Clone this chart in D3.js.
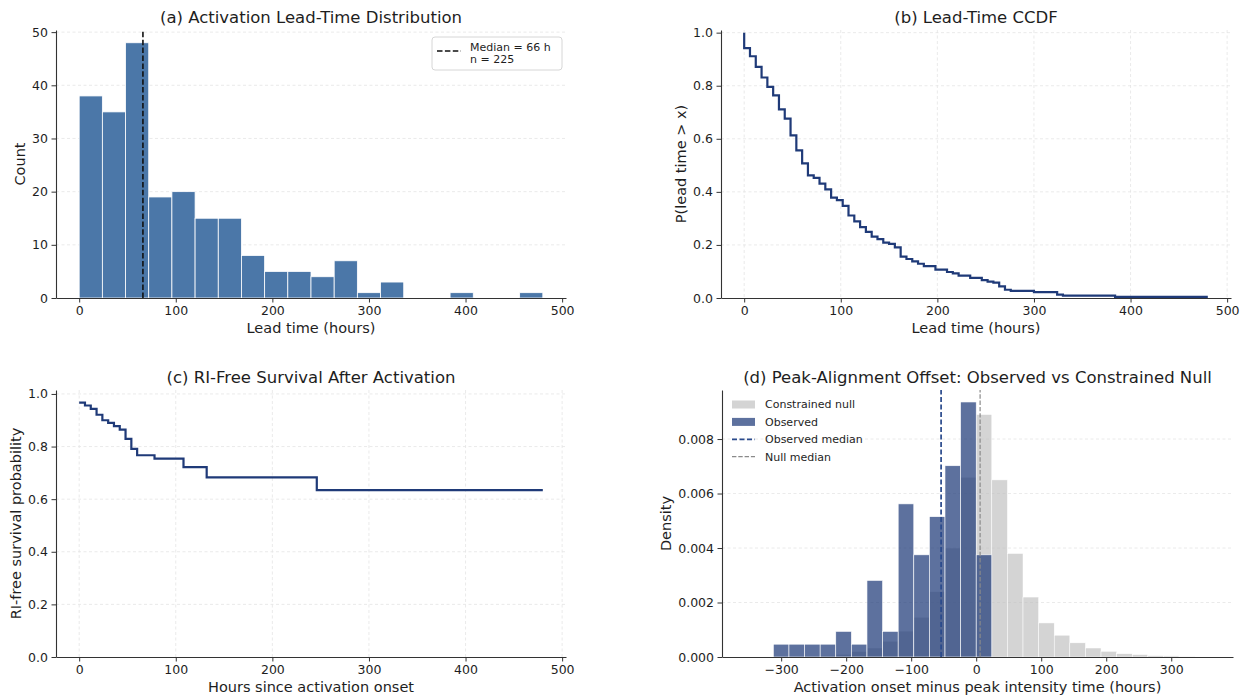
<!DOCTYPE html>
<html>
<head>
<meta charset="utf-8">
<script src="https://cdn.jsdelivr.net/npm/d3@7"></script>
<style>
  body { margin: 0; background: #fff; }
  svg text { font-family: "DejaVu Sans", sans-serif; fill: #1e1e1e; }
</style>
</head>
<body>
<svg id="fig" width="1249" height="696"></svg>
<script>
// (a) lead-time histogram
const leadEdges = [0, 24, 48, 72, 96, 120, 144, 168, 192, 216, 240, 264, 288, 312, 336, 360, 384, 408, 432, 456, 480];
const leadCounts = [38, 35, 48, 19, 20, 15, 15, 8, 5, 5, 4, 7, 1, 3, 0, 0, 1, 0, 0, 1];
const leadMedian = 66;
const leadN = 225;

// (b) CCDF steps
const ccdfHours = [0, 0, 6, 12, 18, 24, 30, 36, 42, 48, 54, 60, 66, 72, 78, 84, 90, 96, 102, 108, 114, 120, 126, 132, 138, 144, 150, 156, 162, 168, 174, 180, 186, 198, 210, 216, 222, 234, 246, 252, 258, 264, 270, 276, 300, 324, 330, 384, 480];
const ccdfProb = [1.000, 0.942, 0.911, 0.871, 0.831, 0.796, 0.764, 0.711, 0.676, 0.613, 0.556, 0.507, 0.462, 0.453, 0.431, 0.409, 0.378, 0.369, 0.347, 0.311, 0.289, 0.267, 0.249, 0.231, 0.222, 0.209, 0.204, 0.191, 0.156, 0.147, 0.138, 0.129, 0.120, 0.107, 0.098, 0.093, 0.084, 0.076, 0.067, 0.062, 0.058, 0.044, 0.031, 0.027, 0.022, 0.013, 0.009, 0.004, 0.004];

// (c) RI-free survival
const survHours = [0, 6, 12, 18, 24, 30, 36, 42, 48, 54, 60, 78, 108, 132, 246, 480];
const survProb = [0.967, 0.956, 0.943, 0.921, 0.900, 0.890, 0.878, 0.864, 0.829, 0.791, 0.767, 0.754, 0.722, 0.683, 0.634, 0.634];

// (d) peak-alignment offset densities
const offsetEdges = [-312, -288, -264, -240, -216, -192, -168, -144, -120, -96, -72, -48, -24, 0, 24, 48, 72, 96, 120, 144, 168, 192, 216, 240, 264, 288, 312, 336];
const observedDensity = [0.00047, 0.00047, 0.00047, 0.00047, 0.00094, 0.00047, 0.00281, 0.00094, 0.00562, 0.00375, 0.00515, 0.00702, 0.00936, 0.00375, 0, 0, 0, 0, 0, 0, 0, 0, 0, 0, 0, 0, 0];
const nullDensity = [0.00001, 0.00002, 0.00003, 0.00005, 0.0001, 0.0002, 0.00033, 0.00058, 0.00095, 0.00146, 0.0024, 0.004, 0.0066, 0.0089, 0.0065, 0.0038, 0.0022, 0.00125, 0.0008, 0.00052, 0.00033, 0.00021, 0.00012, 0.00009, 0.00005, 0.00004, 0.00002];
const observedMedian = -54;
const nullMedian = 6;

const navy = "#1f3a78";
const svg = d3.select("#fig");

function makePanel(opt) {
  const g = svg.append("g");
  const x = d3.scaleLinear().domain(opt.xDomain).range([opt.left, opt.right]);
  const y = d3.scaleLinear().domain(opt.yDomain).range([opt.bottom, opt.top]);

  const grid = g.append("g")
    .attr("stroke", "#e4e4e4").attr("stroke-width", 0.8).attr("stroke-dasharray", "3,2.5");
  if (opt.gridX) {
    grid.selectAll(".gx").data(opt.xTicks).enter().append("line")
      .attr("x1", d => x(d)).attr("x2", d => x(d))
      .attr("y1", opt.top).attr("y2", opt.bottom);
  }
  grid.selectAll(".gy").data(opt.yTicks.filter(d => d !== 0)).enter().append("line")
    .attr("x1", opt.left).attr("x2", opt.right)
    .attr("y1", d => y(d)).attr("y2", d => y(d));

  const plot = g.append("g");
  const axes = g.append("g");

  const xAxis = axes.append("g").attr("transform", `translate(0,${opt.bottom})`)
    .call(d3.axisBottom(x).tickValues(opt.xTicks).tickFormat(opt.xFormat)
      .tickSize(4.5).tickSizeOuter(0).tickPadding(3.5));
  const yAxis = axes.append("g").attr("transform", `translate(${opt.left},0)`)
    .call(d3.axisLeft(y).tickValues(opt.yTicks).tickFormat(opt.yFormat)
      .tickSize(4.5).tickSizeOuter(0).tickPadding(3.5));
  [xAxis, yAxis].forEach(a => {
    a.attr("font-family", null).attr("font-size", null);
    a.select(".domain").attr("stroke", "#333").attr("stroke-width", 1.1);
    a.selectAll(".tick line").attr("stroke", "#333").attr("stroke-width", 1);
    a.selectAll(".tick text").attr("fill", "#1e1e1e").style("font-size", "12.5px");
  });

  const cx = (opt.left + opt.right) / 2;
  g.append("text").attr("x", cx).attr("y", opt.top - 13).attr("dy", "0.35em")
    .attr("text-anchor", "middle").style("font-size", "16.5px").text(opt.title);
  g.append("text").attr("x", cx).attr("y", opt.bottom + 30).attr("dy", "0.35em")
    .attr("text-anchor", "middle").style("font-size", "14.5px").text(opt.xLabel);
  g.append("text")
    .attr("transform", `translate(${opt.yLabelX},${(opt.top + opt.bottom) / 2}) rotate(-90)`)
    .attr("dy", "0.35em").attr("text-anchor", "middle").style("font-size", "14.5px").text(opt.yLabel);

  return { g, x, y, plot };
}

const fmtInt = d3.format("d");
const fmt1 = d3.format(".1f");
const hourTicks = [0, 100, 200, 300, 400, 500];
const probTicks = [0, 0.2, 0.4, 0.6, 0.8, 1.0];

// ---------- (a)
const pa = makePanel({
  left: 56, right: 566, top: 30, bottom: 298,
  xDomain: [-24, 504], yDomain: [0, 50.4],
  xTicks: hourTicks, yTicks: [0, 10, 20, 30, 40, 50],
  xFormat: fmtInt, yFormat: fmtInt, gridX: false,
  title: "(a) Activation Lead-Time Distribution",
  xLabel: "Lead time (hours)", yLabel: "Count", yLabelX: 20
});
pa.plot.selectAll("rect").data(leadCounts.map((c, i) => ({ c, x0: leadEdges[i], x1: leadEdges[i + 1] })).filter(d => d.c > 0))
  .enter().append("rect")
  .attr("x", d => pa.x(d.x0)).attr("width", d => pa.x(d.x1) - pa.x(d.x0))
  .attr("y", d => pa.y(d.c)).attr("height", d => pa.y(0) - pa.y(d.c))
  .attr("fill", "#4b77a8").attr("stroke", "#fff").attr("stroke-width", 0.8);
pa.plot.append("line")
  .attr("x1", pa.x(leadMedian)).attr("x2", pa.x(leadMedian))
  .attr("y1", 298).attr("y2", 30)
  .attr("stroke", "#111").attr("stroke-width", 1.6).attr("stroke-dasharray", "5.5,2.4");

const legA = pa.g.append("g");
legA.append("rect").attr("x", 432).attr("y", 37).attr("width", 130).attr("height", 33).attr("rx", 3)
  .attr("fill", "#fff").attr("fill-opacity", 0.85).attr("stroke", "#d6d6d6").attr("stroke-width", 1);
legA.append("line").attr("x1", 437).attr("x2", 461).attr("y1", 51).attr("y2", 51)
  .attr("stroke", "#111").attr("stroke-width", 1.6).attr("stroke-dasharray", "5.5,2.4");
legA.append("text").attr("x", 470).attr("y", 47.5).attr("dy", "0.35em").style("font-size", "11px")
  .text(`Median = ${leadMedian} h`);
legA.append("text").attr("x", 470).attr("y", 59.5).attr("dy", "0.35em").style("font-size", "11px")
  .text(`n = ${leadN}`);

// ---------- (b)
const pb = makePanel({
  left: 721, right: 1231, top: 30, bottom: 298,
  xDomain: [-24, 504], yDomain: [0, 1.01],
  xTicks: hourTicks, yTicks: probTicks,
  xFormat: fmtInt, yFormat: fmt1, gridX: true,
  title: "(b) Lead-Time CCDF",
  xLabel: "Lead time (hours)", yLabel: "P(lead time > x)", yLabelX: 681
});
pb.plot.append("path")
  .datum(ccdfHours.map((h, i) => [h, ccdfProb[i]]))
  .attr("d", d3.line().x(d => pb.x(d[0])).y(d => pb.y(d[1])).curve(d3.curveStepAfter))
  .attr("fill", "none").attr("stroke", navy).attr("stroke-width", 2.2);

// ---------- (c)
const pc = makePanel({
  left: 56, right: 566, top: 390, bottom: 657,
  xDomain: [-24, 504], yDomain: [0, 1.015],
  xTicks: hourTicks, yTicks: probTicks,
  xFormat: fmtInt, yFormat: fmt1, gridX: true,
  title: "(c) RI-Free Survival After Activation",
  xLabel: "Hours since activation onset", yLabel: "RI-free survival probability", yLabelX: 16
});
pc.plot.append("path")
  .datum(survHours.map((h, i) => [h, survProb[i]]))
  .attr("d", d3.line().x(d => pc.x(d[0])).y(d => pc.y(d[1])).curve(d3.curveStepAfter))
  .attr("fill", "none").attr("stroke", navy).attr("stroke-width", 2.2);

// ---------- (d)
const pd = makePanel({
  left: 722, right: 1233, top: 390, bottom: 657,
  xDomain: [-391, 395], yDomain: [0, 0.0098],
  xTicks: [-300, -200, -100, 0, 100, 200, 300], yTicks: [0, 0.002, 0.004, 0.006, 0.008],
  xFormat: fmtInt, yFormat: d3.format(".3f"), gridX: false,
  title: "(d) Peak-Alignment Offset: Observed vs Constrained Null",
  xLabel: "Activation onset minus peak intensity time (hours)", yLabel: "Density", yLabelX: 666
});
function bins(vals) {
  return vals.map((v, i) => ({ v, x0: offsetEdges[i], x1: offsetEdges[i + 1] })).filter(d => d.v > 0);
}
pd.plot.append("g").selectAll("rect").data(bins(nullDensity)).enter().append("rect")
  .attr("x", d => pd.x(d.x0)).attr("width", d => pd.x(d.x1) - pd.x(d.x0))
  .attr("y", d => pd.y(d.v)).attr("height", d => pd.y(0) - pd.y(d.v))
  .attr("fill", "#bdbdbd").attr("fill-opacity", 0.65).attr("stroke", "#fff").attr("stroke-width", 0.5);
pd.plot.append("g").selectAll("rect").data(bins(observedDensity)).enter().append("rect")
  .attr("x", d => pd.x(d.x0)).attr("width", d => pd.x(d.x1) - pd.x(d.x0))
  .attr("y", d => pd.y(d.v)).attr("height", d => pd.y(0) - pd.y(d.v))
  .attr("fill", navy).attr("fill-opacity", 0.72).attr("stroke", "#fff").attr("stroke-width", 0.6);
pd.plot.append("line")
  .attr("x1", pd.x(observedMedian)).attr("x2", pd.x(observedMedian)).attr("y1", 657).attr("y2", 390)
  .attr("stroke", "#2a4a8c").attr("stroke-width", 1.7).attr("stroke-dasharray", "5,2.5");
pd.plot.append("line")
  .attr("x1", pd.x(nullMedian)).attr("x2", pd.x(nullMedian)).attr("y1", 657).attr("y2", 390)
  .attr("stroke", "#8a8a8a").attr("stroke-width", 1.2).attr("stroke-dasharray", "4.4,1.9");

const legD = pd.g.append("g");
const legItems = [
  { label: "Constrained null", type: "patch", fill: "#bdbdbd", op: 0.65 },
  { label: "Observed", type: "patch", fill: navy, op: 0.72 },
  { label: "Observed median", type: "line", stroke: "#2a4a8c", w: 1.7, dash: "5,2.5" },
  { label: "Null median", type: "line", stroke: "#8a8a8a", w: 1.2, dash: "4.4,1.9" }
];
legItems.forEach((it, i) => {
  const cy = 404.5 + i * 17.4;
  if (it.type === "patch") {
    legD.append("rect").attr("x", 732).attr("y", cy - 4).attr("width", 23).attr("height", 8)
      .attr("fill", it.fill).attr("fill-opacity", it.op);
  } else {
    legD.append("line").attr("x1", 732).attr("x2", 755).attr("y1", cy).attr("y2", cy)
      .attr("stroke", it.stroke).attr("stroke-width", it.w).attr("stroke-dasharray", it.dash);
  }
  legD.append("text").attr("x", 765).attr("y", cy).attr("dy", "0.35em").style("font-size", "11px").text(it.label);
});
</script>
</body>
</html>
